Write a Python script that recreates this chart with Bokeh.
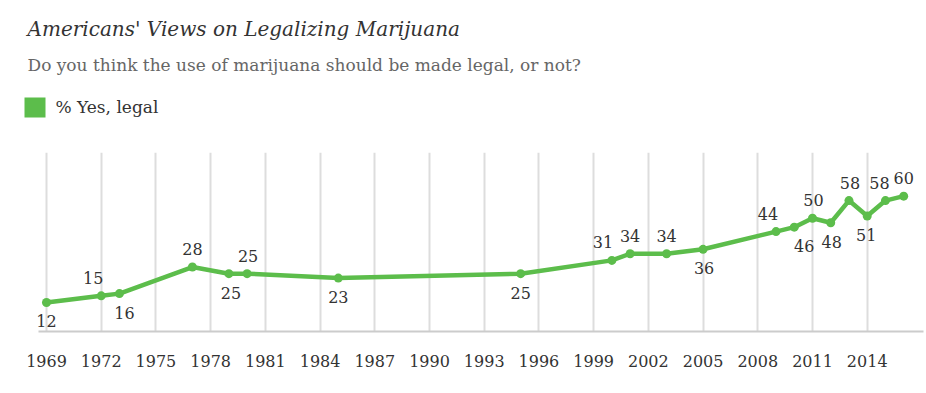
from bokeh.plotting import figure
from bokeh.layouts import column
from bokeh.models import ColumnDataSource, Range1d, FixedTicker
from bokeh.core.properties import value
from bokeh.embed import file_html
from bokeh.resources import INLINE

# ---- data ----
YEARS = [1969, 1972, 1973, 1977, 1979, 1980, 1985, 1995, 2000, 2001, 2003,
         2005, 2009, 2010, 2011, 2012, 2013, 2014, 2015, 2016]
YES_LEGAL = [12, 15, 16, 28, 25, 25, 23, 25, 31, 34, 34,
             36, 44, 46, 50, 48, 58, 51, 58, 60]
TICK_YEARS = [1969, 1972, 1975, 1978, 1981, 1984, 1987, 1990, 1993, 1996,
              1999, 2002, 2005, 2008, 2011, 2014]
LABEL_SIDE = ["below", "above", "below", "above", "below", "above", "below", "below",
              "above", "above", "above", "below", "above", "below", "above", "below",
              "above", "below", "above", "above"]
LABEL_NUDGE = [0, -8, 5, 0, 2, 1, 0, 0, -9, 0, 0, 1, -8, 10, 1, 1, 1, -1, -6, 0]

TITLE = "Americans' Views on Legalizing Marijuana"
SUBTITLE = "Do you think the use of marijuana should be made legal, or not?"
SERIES = "% Yes, legal"

GREEN = "#5cbd4b"
SERIF = "DejaVu Serif"
W = 926

# ---- header figure (title, subtitle, legend) ----
HEAD_H = 144
head = figure(width=W, height=HEAD_H, x_range=Range1d(0, W), y_range=Range1d(HEAD_H, 0),
              min_border=0, x_axis_location=None, y_axis_location=None,
              toolbar_location=None, output_backend="svg")
head.grid.visible = False
head.outline_line_color = None
head.text(x=[27], y=[28], text=[TITLE], text_font=value(SERIF), text_font_style="italic",
          text_font_size="20px", text_color="#333333", text_baseline="alphabetic")
head.text(x=[27], y=[64], text=[SUBTITLE], text_font=value(SERIF),
          text_font_size="17px", text_color="#666666", text_baseline="alphabetic")
head.rect(x=[34.5], y=[107], width=21, height=20, fill_color=GREEN, line_color=None)
head.text(x=[55], y=[106], text=[SERIES], text_font=value(SERIF),
          text_font_size="17px", text_color="#333333", text_baseline="alphabetic")

# ---- chart ----
off_y = [-18 if s == "above" else 19 for s in LABEL_SIDE]
src = ColumnDataSource(dict(
    x=YEARS, y=YES_LEGAL, label=[str(v) for v in YES_LEGAL],
    dx=LABEL_NUDGE, dy=off_y,
))

p = figure(width=W, height=249, x_range=Range1d(1966.478, 2017.251), y_range=Range1d(-1.1, 79.7),
           toolbar_location=None, output_backend="svg", y_axis_location=None,
           min_border_left=0, min_border_right=0, min_border_top=8, min_border_bottom=62)
p.outline_line_color = None
p.ygrid.visible = False

p.xaxis.ticker = FixedTicker(ticks=TICK_YEARS)
p.xaxis.bounds = (1968.561, 2017.086)
p.xaxis.axis_line_color = "#cccccc"
p.xaxis.axis_line_width = 2
p.xaxis.major_tick_line_color = None
p.xaxis.minor_tick_line_color = None
p.xaxis.major_label_standoff = 17
p.xaxis.major_label_text_font = SERIF
p.xaxis.major_label_text_font_size = "16px"
p.xaxis.major_label_text_color = "#333333"

p.xgrid.ticker = FixedTicker(ticks=TICK_YEARS)
p.xgrid.grid_line_color = "#dddddd"
p.xgrid.grid_line_width = 2

p.line("x", "y", source=src, line_color=GREEN, line_width=4.5)
p.scatter("x", "y", source=src, size=9, fill_color=GREEN, line_color=None)
p.text("x", "y", text="label", source=src, x_offset="dx", y_offset="dy",
       text_font=value(SERIF), text_font_size="16px", text_color="#333333",
       text_align="center", text_baseline="middle")

layout = column(head, p, spacing=0)
open("out.html", "w").write(file_html(layout, INLINE))
